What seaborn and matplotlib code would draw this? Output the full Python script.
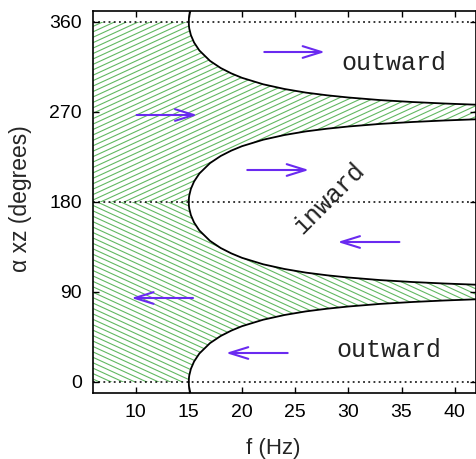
import numpy as np
import pandas as pd
import seaborn as sns
import matplotlib
matplotlib.use("Agg")
import matplotlib.pyplot as plt
from matplotlib.collections import LineCollection

# ---- data ----
f_edge = [15.0, 15.02, 15.05, 15.2, 15.5, 16, 17, 18, 19, 20, 22, 24, 26, 28, 30,
          33, 36, 39, 42]
alpha_edge = [0.0, 4.2, 6.6, 13.1, 20.5, 28.5, 38.9, 46.0, 51.4, 55.8, 62.3, 67.0,
              70.6, 73.3, 75.5, 78.1, 80.0, 81.5, 82.7]
ref_levels = [0, 180, 360]

arrow_f_start = [22.1, 10.1, 20.5, 34.8, 15.4, 24.3]
arrow_f_end = [27.8, 15.8, 26.3, 29.0, 9.6, 18.5]
arrow_alpha = [330, 267, 212, 140, 84, 29]

labels = ["outward", "inward", "outward"]
label_f = [34.3, 28.2, 33.8]
label_alpha = [319, 184, 32]
label_rot = [0, 45, 0]

xticks = [10, 15, 20, 25, 30, 35, 40]
yticks = [0, 90, 180, 270, 360]

# ---- figure ----
sns.set_style("ticks")
plt.rcParams["font.family"] = ["Liberation Sans", "DejaVu Sans"]

fig = plt.figure(figsize=(4.77, 4.59), dpi=100)
ax = fig.add_axes([93 / 477, 1 - 393 / 459, 383 / 477, 382 / 459])
ax.set_xlim(6, 42)
ax.set_ylim(-11, 371)

fe = np.array(f_edge)
ae = np.array(alpha_edge)

# boundary curves
curves = []
for base, sign in [(0, 1), (0, -1), (180, -1), (180, 1), (360, -1), (360, 1)]:
    for fv, av in zip(fe, ae):
        curves.append({"f": fv, "alpha": base + sign * av, "curve": f"{base}{sign}"})
cdf = pd.DataFrame(curves)
sns.lineplot(data=cdf, x="f", y="alpha", units="curve", estimator=None, sort=False,
             color="black", linewidth=1.3, ax=ax, legend=False)

# dotted reference lines
for lv in ref_levels:
    ax.axhline(lv, color="black", linestyle=(0, (1.2, 2.2)), linewidth=1.1, zorder=1)

# hatched regions
hatch_color = "#62b862"
xs = np.concatenate([[6.0], fe])


def hatch(lower, upper, slope):
    poly = ax.fill_between(xs, lower, upper, facecolor="none", edgecolor="none")
    path = poly.get_paths()[0]
    step = 0.0142
    segs = []
    for c in np.arange(-1.0, 1.6, step):
        segs.append([(0, c), (1, c + slope)])
    lc = LineCollection(segs, colors=hatch_color, linewidths=0.8,
                        transform=ax.transAxes, zorder=0.5)
    ax.add_collection(lc)
    lc.set_clip_path(path, ax.transData)


hatch(np.concatenate([[180.0], 180 + ae]), np.concatenate([[360.0], 360 - ae]), 0.46)
hatch(np.concatenate([[0.0], ae]), np.concatenate([[180.0], 180 - ae]), -0.46)

# arrows
arrow_color = "#6a2af0"
for fs, fe_, a in zip(arrow_f_start, arrow_f_end, arrow_alpha):
    ax.annotate("", xy=(fe_, a), xytext=(fs, a),
                arrowprops=dict(arrowstyle="->,head_length=1.35,head_width=0.42",
                                color=arrow_color, lw=1.5, shrinkA=0, shrinkB=0))

for t, fx, ay, r in zip(labels, label_f, label_alpha, label_rot):
    ax.text(fx, ay, t, rotation=r, ha="center", va="center", fontsize=18,
            family=["Liberation Mono", "DejaVu Sans Mono"], color="#222222")

ax.set_xticks(xticks)
ax.set_yticks(yticks)
ax.tick_params(direction="in", length=4, width=1, top=True, right=True,
               labelsize=14, pad=8, colors="black")
for s in ax.spines.values():
    s.set_linewidth(1.2)
    s.set_color("black")
    s.set_visible(True)

ax.set_xlabel("f (Hz)", fontsize=16)
ax.set_ylabel("α xz (degrees)", fontsize=16.5)
ax.xaxis.set_label_coords(0.47, -0.118)
ax.yaxis.set_label_coords(-0.159, 0.51)

fig.savefig("out.png", dpi=100)
